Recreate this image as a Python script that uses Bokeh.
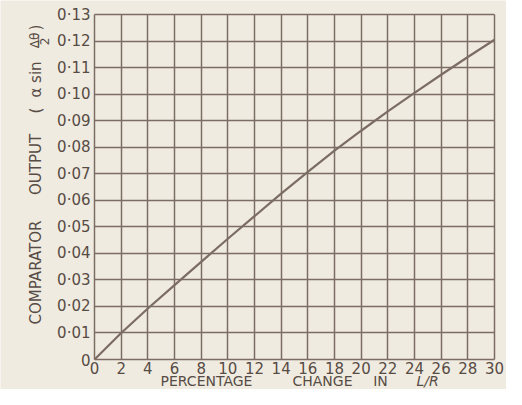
from math import pi
from bokeh.plotting import figure
from bokeh.models import FixedTicker, Label, Range1d, Grid
from bokeh.core.properties import value
from bokeh.embed import file_html
from bokeh.resources import INLINE

# ---- data ----
pct_change = [0, 2, 4, 6, 8, 10, 12, 14, 16, 18, 20, 22, 24, 26, 28, 30]
comparator_output = [0, 0.0100, 0.0192, 0.0280, 0.0368, 0.0455, 0.0540, 0.0625,
                     0.0707, 0.0787, 0.0862, 0.0935, 0.1005, 0.1073, 0.1140, 0.1205]

x_ticks = [0, 2, 4, 6, 8, 10, 12, 14, 16, 18, 20, 22, 24, 26, 28, 30]
x_tick_labels = ["0", "2", "4", "6", "8", "10", "12", "14", "16", "18", "20",
                 "22", "24", "26", "28", "30"]
y_ticks = [0, 0.01, 0.02, 0.03, 0.04, 0.05, 0.06, 0.07, 0.08, 0.09, 0.10,
           0.11, 0.12, 0.13]
y_tick_labels = ["0", "0·01", "0·02", "0·03", "0·04", "0·05", "0·06", "0·07",
                 "0·08", "0·09", "0·10", "0·11", "0·12", "0·13"]

x_label_words = ["PERCENTAGE", "CHANGE", "IN"]
x_label_italic = "L/R"
y_label_words = ["COMPARATOR", "OUTPUT", "(", "α sin", ")"]
y_label_frac = ["Δθ", "2"]
y_label_bar = "—"

# ---- style ----
BG = "#f0ebe0"
LINE = "#7b6c64"
TEXT = "#574b45"
FONT = "DejaVu Sans"

X0, X1 = 0, 30
Y0, Y1 = 0, 0.13
W, H = 506, 389
CL, CR, CT, CB = 94, 494, 14, 359   # chart box in canvas px
UX = (X1 - X0) / (CR - CL)
UY = (Y1 - Y0) / (CB - CT)

def dx(px):
    return X0 + (px - CL) * UX

def dy(py):
    return Y0 + (CB - py) * UY

p = figure(width=W, height=H, output_backend="svg", toolbar_location=None,
           x_range=Range1d(dx(0), dx(W)), y_range=Range1d(dy(H), dy(0)),
           x_axis_location=None, y_axis_location=None, min_border=0)
p.background_fill_color = BG
p.border_fill_color = BG
p.outline_line_color = None
p.xgrid.visible = False
p.ygrid.visible = False

# grid (ticks at the chart edges make the frame)
for dim, ticks, b, cb in ((0, x_ticks, (X0, X1), (Y0, Y1)),
                          (1, y_ticks, (Y0, Y1), (X0, X1))):
    g = Grid(dimension=dim, ticker=FixedTicker(ticks=ticks), bounds=b,
             grid_line_color=LINE, grid_line_width=1.5)
    try:
        g.cross_bounds = cb
    except Exception:
        pass
    p.add_layout(g)

# the curve
p.line(pct_change, comparator_output, line_color=LINE, line_width=2.2)

# tick labels
p.text(x=x_ticks, y=[dy(367)] * len(x_ticks), text=x_tick_labels,
       text_font=value(FONT), text_font_size="15px", text_color=TEXT,
       text_align="center", text_baseline="middle")
p.text(x=[dx(90)] * len(y_ticks), y=y_ticks, text=y_tick_labels,
       text_font=value(FONT), text_font_size="15px", text_color=TEXT,
       text_align="right", text_baseline="middle")

def lab(text, px, py, size, align="center", baseline="middle", angle=0.0,
        style="normal"):
    p.add_layout(Label(x=dx(px), y=dy(py), text=text, text_font=FONT,
                       text_font_size=size, text_font_style=style,
                       text_color=TEXT, angle=angle, text_align=align,
                       text_baseline=baseline))

# x-axis title (words centred on where the reference prints them)
for w, cx in zip(x_label_words, [206, 322, 380]):
    lab(w, cx, 380, "14px")
lab(x_label_italic, 427, 380, "14px", style="italic")

# y-axis title, rotated, reading upwards
for w, cy in zip(y_label_words, [272, 164, 110, 79, 27]):
    lab(w, 35, cy, "15px", baseline="alphabetic", angle=pi / 2)
lab(y_label_frac[0], 34, 40, "12px", baseline="alphabetic", angle=pi / 2)
lab(y_label_bar, 37, 40, "13px", angle=pi / 2)
lab(y_label_frac[1], 44, 41, "12px", baseline="alphabetic", angle=pi / 2)

open("out.html", "w").write(file_html(p, INLINE))
